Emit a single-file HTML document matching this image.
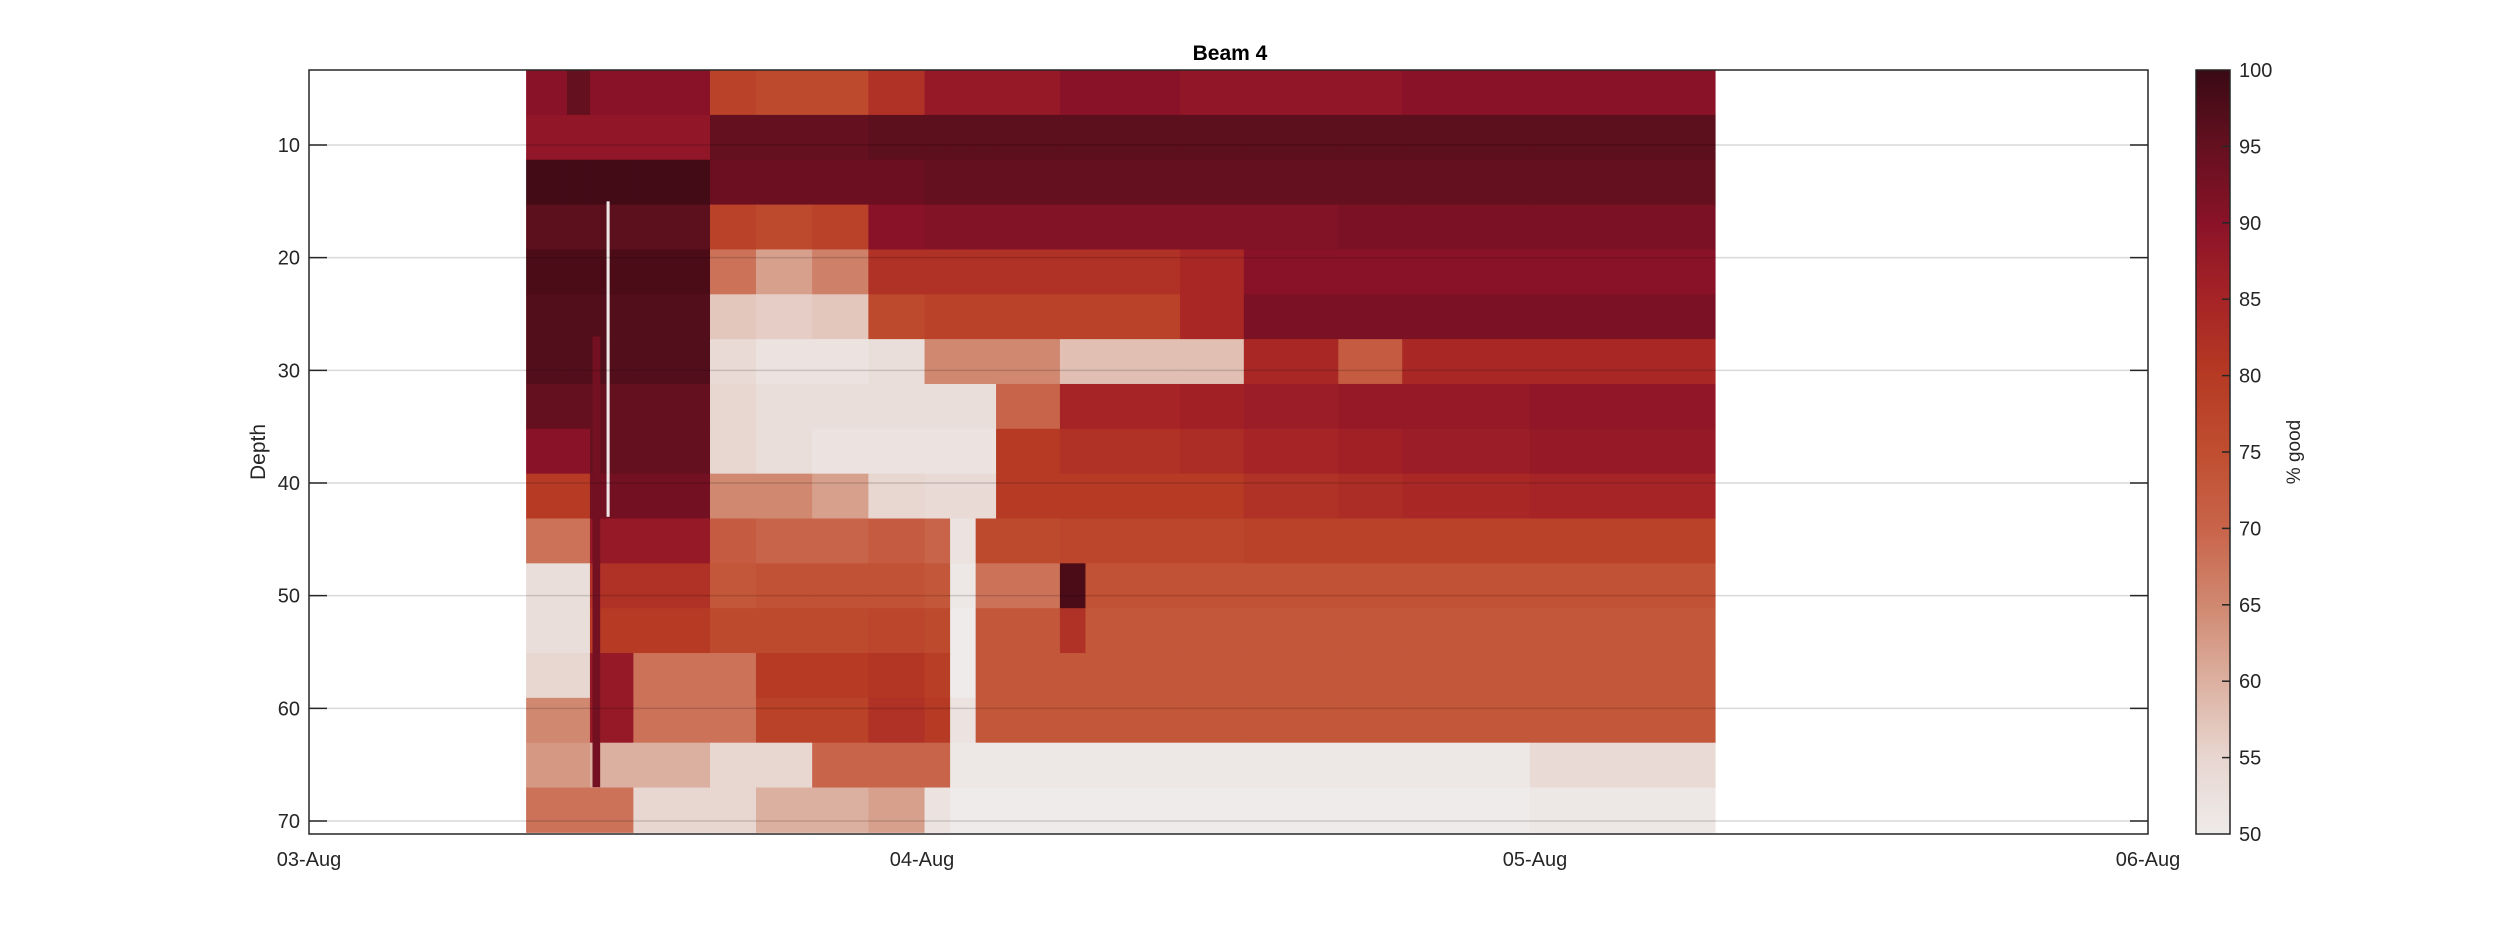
<!DOCTYPE html>
<html><head><meta charset="utf-8"><style>
html,body{margin:0;padding:0;background:#fff;}
svg{display:block;font-family:"Liberation Sans",Arial,sans-serif;}
</style></head><body>
<svg id="chart" width="2500" height="938" viewBox="0 0 2500 938">
<g id="cells"></g>
<g id="grid"></g>
<rect x="309" y="70" width="1839" height="764" fill="none" stroke="#262626" stroke-width="1.5"/>
<g id="axes"></g>
<text x="1230" y="60" font-size="21" font-weight="bold" text-anchor="middle" fill="#000">Beam 4</text>
<text transform="translate(265,452) rotate(-90)" font-size="21" text-anchor="middle" fill="#262626">Depth</text>
<g id="cbar"></g>
<text transform="translate(2300,452) rotate(-90)" font-size="19" text-anchor="middle" fill="#262626">% good</text>
</svg>
<script>
// time segment edges (hours since 03-Aug 00:00)
const segEdges = [8.5,10.1,11.0,12.7,15.7,17.5,19.7,21.9,24.1,25.1,26.1,26.9,29.4,30.4,34.1,36.6,40.3,42.8,47.8,55.05];
// depth bin centers
const depthCenters = [5.34,9.32,13.3,17.28,21.26,25.24,29.22,33.2,37.18,41.16,45.14,49.12,53.1,57.08,61.06,65.04,69.02];
const binHeight = 3.98;
// % good per depth bin per time segment
const values = [
[90,95,90,90,78,76,76,82,88,88,88,88,90,90,89,89,89,90,90],
[89,89,89,89,95,95,95,96,96,96,96,96,96,96,96,96,96,96,96],
[99,99,99,99,94,94,94,94,95,95,95,95,95,95,95,95,95,95,95],
[96,96,96,96,78,76,78,90,91,91,91,91,91,91,91,91,92,92,92],
[98,98,98,98,68,62,66,82,82,82,82,82,82,82,84,90,90,90,90],
[97,97,97,97,57,56,57,76,78,78,78,78,78,78,84,92,92,92,92],
[97,97,97,97,54,52,52,53,65,65,65,65,58,58,58,84,72,84,84],
[95,95,95,95,55,53,53,53,53,53,53,70,85,85,86,87,88,88,89],
[90,90,95,95,55,53,52,52,52,52,52,80,82,82,83,85,86,87,88],
[80,80,93,93,65,65,62,55,54,54,54,80,80,80,80,82,83,84,85],
[68,68,88,88,72,70,70,72,70,52,76,76,77,77,77,78,78,78,78],
[53,53,82,82,73,74,74,74,73,51,68,68,98,74,74,74,74,74,74],
[53,53,80,80,76,76,76,77,76,50,73,73,82,73,73,73,73,73,73],
[55,55,88,68,68,80,80,81,79,50,73,73,73,73,73,73,73,73,73],
[65,65,88,68,68,78,78,82,80,52,73,73,73,73,73,73,73,73,73],
[63,63,60,60,55,55,70,70,70,51,51,51,51,51,51,51,51,51,54],
[68,68,68,55,55,60,60,62,52,50,50,50,50,50,50,50,50,50,51]
];
// prominent vertical streaks: hour, duration (h), value, depth from, depth to
const streakHours = [11.1, 11.65];
const streakDur = [0.3, 0.12];
const streakValues = [93, 51];
const streakTop = [27, 15];
const streakBottom = [67, 43];
const yTicks = [10,20,30,40,50,60,70];
const xTickHours = [0,24,48,72];
const xTickLabels = ["03-Aug","04-Aug","05-Aug","06-Aug"];
const cbTicks = [50,55,60,65,70,75,80,85,90,95,100];

const NS="http://www.w3.org/2000/svg";
const X0=309,X1=2148,Y0=70,Y1=834;
function xS(h){return X0+(h/72)*(X1-X0);}
function yS(d){return 145+(d-10)*(821-145)/60;}
const stops=[[50,[238,235,234]],[55,[232,214,208]],[60,[220,176,160]],[65,[208,136,112]],[70,[200,100,74]],[75,[192,78,48]],[80,[182,58,36]],[85,[166,36,38]],[90,[138,18,40]],[95,[100,16,31]],[100,[58,10,20]]];
function col(v){v=Math.max(50,Math.min(100,v));for(let i=0;i<stops.length-1;i++){const a=stops[i],b=stops[i+1];if(v<=b[0]){const t=(v-a[0])/(b[0]-a[0]);const c=a[1].map((x,k)=>Math.round(x+(b[1][k]-x)*t));return `rgb(${c})`;}}return 'rgb(58,10,20)';}
function mk(tag,attrs,parent){const e=document.createElementNS(NS,tag);for(const k in attrs)e.setAttribute(k,attrs[k]);parent.appendChild(e);return e;}

const cells=document.getElementById('cells');
values.forEach((row,r)=>{
  const yt=Math.max(Y0,yS(depthCenters[r]-binHeight/2)), yb=Math.min(Y1,yS(depthCenters[r]+binHeight/2));
  row.forEach((v,s)=>{
    const x=xS(segEdges[s]),w=xS(segEdges[s+1])-x;
    const e=mk('rect',{x:x,y:yt,width:w+0.5,height:yb-yt+0.5,fill:col(v)},cells);
    
    
  });
});
streakHours.forEach((h,i)=>{
  const x=xS(h),w=xS(h+streakDur[i])-x;
  const e=mk('rect',{x:x,y:yS(streakTop[i]),width:w,height:yS(streakBottom[i])-yS(streakTop[i]),fill:col(streakValues[i])},cells);
  
  
});
const grid=document.getElementById('grid'),axes=document.getElementById('axes');
yTicks.forEach(t=>{
  const y=yS(t);
  const g=mk('line',{x1:X0,x2:X1,y1:y,y2:y,stroke:'#000','stroke-opacity':0.15,'stroke-width':1.5},grid);
  
  
  mk('line',{x1:X0,x2:X0+18,y1:y,y2:y,stroke:'#262626','stroke-width':1.5},axes);
  mk('line',{x1:X1-18,x2:X1,y1:y,y2:y,stroke:'#262626','stroke-width':1.5},axes);
  const l=mk('text',{x:X0-9,y:y+7,'font-size':20,'text-anchor':'end',fill:'#262626'},axes);
  l.textContent=t;
  
  
});
xTickHours.forEach((h,i)=>{
  const x=xS(h);
  const l=mk('text',{x:x,y:866,'font-size':20,'text-anchor':'middle',fill:'#262626'},axes);
  l.textContent=xTickLabels[i];
  
  
});
// colorbar
const cb=document.getElementById('cbar');
const CX=2196,CW=34;
function cbY(v){return Y1-(v-50)/50*(Y1-Y0);}
const defs=mk('defs',{},cb);
const lg=mk('linearGradient',{id:'cbg',x1:0,y1:1,x2:0,y2:0},defs);
for(let v=50;v<=100;v+=1){mk('stop',{offset:((v-50)/50),'stop-color':col(v)},lg);}
const cr=mk('rect',{x:CX,y:Y0,width:CW,height:Y1-Y0,fill:'url(#cbg)',stroke:'#262626','stroke-width':1.5},cb);


cbTicks.forEach(t=>{
  const y=cbY(t);
  if(t>50&&t<100){mk('line',{x1:CX+CW-8,x2:CX+CW,y1:y,y2:y,stroke:'#262626','stroke-width':1.5},cb);}
  const l=mk('text',{x:CX+CW+9,y:y+7,'font-size':20,fill:'#262626'},cb);
  l.textContent=t;
  
  
});
</script>
</body></html>
